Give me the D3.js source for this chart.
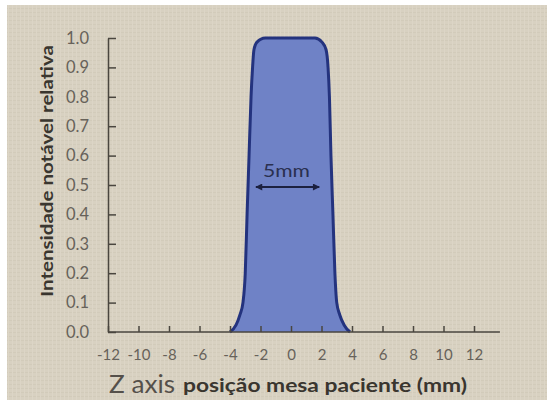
<!DOCTYPE html>
<html>
<head>
<meta charset="utf-8">
<script src="https://cdn.jsdelivr.net/npm/d3@7"></script>
<style>
  html, body { margin: 0; padding: 0; background: #ffffff; }
  svg { display: block; }
</style>
</head>
<body>
<svg id="chart" width="547" height="400"></svg>
<script>
// Slice sensitivity profile along the table (Z) axis
const zPositions = [-4.0, -3.6, -3.35, -3.15, -3.0, -2.88, -2.75, -2.62, -2.52, -2.43, -2.23, -1.7,
                    0, 1.57, 2.03, 2.3, 2.43, 2.52, 2.62, 2.75, 2.88, 3.0, 3.2, 3.48, 3.87];
const intensities = [0, 0.024, 0.058, 0.1, 0.2, 0.4, 0.6, 0.8, 0.9, 0.96, 0.986, 1.0,
                     1.0, 1.0, 0.986, 0.96, 0.9, 0.8, 0.6, 0.4, 0.2, 0.1, 0.058, 0.024, 0];
const xTicks = [-12, -10, -8, -6, -4, -2, 0, 2, 4, 6, 8, 10, 12];
const yTicks = [0, 0.1, 0.2, 0.3, 0.4, 0.5, 0.6, 0.7, 0.8, 0.9, 1.0];
const widthLabel = "5mm";
const widthSpan = [-2.3, 1.85];

const svg = d3.select("#chart");
const W = 547, H = 400;

// paper background with a faint woven texture
const defs = svg.append("defs");
const pat = defs.append("pattern").attr("id", "paper")
  .attr("width", 4).attr("height", 4).attr("patternUnits", "userSpaceOnUse");
pat.append("rect").attr("width", 4).attr("height", 4).attr("fill", "#d8d1c1");
pat.append("rect").attr("width", 4).attr("height", 1).attr("fill", "#d2cbba");
pat.append("rect").attr("width", 1).attr("height", 4).attr("fill", "#dcd5c6");

svg.append("rect").attr("width", W).attr("height", H).attr("fill", "#ffffff");
svg.append("rect").attr("x", 7).attr("y", 5).attr("width", W - 7).attr("height", H - 5)
  .attr("fill", "url(#paper)");

const x = d3.scaleLinear().domain([-12, 12]).range([108, 474]);
const y = d3.scaleLinear().domain([0, 1]).range([332, 38]);

const pts = zPositions.map((z, i) => [z, intensities[i]]);

// filled profile
const area = d3.area()
  .x(d => x(d[0])).y0(y(0)).y1(d => y(d[1]))
  .curve(d3.curveMonotoneX);
svg.append("path").datum(pts)
  .attr("d", area)
  .attr("fill", "#6f82c6");

const line = d3.line()
  .x(d => x(d[0])).y(d => y(d[1]))
  .curve(d3.curveMonotoneX);
svg.append("path").datum(pts)
  .attr("d", line)
  .attr("fill", "none")
  .attr("stroke", "#24337e")
  .attr("stroke-width", 3)
  .attr("stroke-linejoin", "round");

// axes
const axisColor = "#4a463f";
const tickFont = "Lato, 'DejaVu Sans', sans-serif";

const yAxis = svg.append("g")
  .attr("transform", `translate(${x(-12)},0)`)
  .call(d3.axisLeft(y).tickValues(yTicks).tickFormat(d3.format(".1f"))
    .tickSize(-8).tickSizeOuter(0).tickPadding(19));
yAxis.select(".domain").attr("stroke", axisColor).attr("stroke-width", 1.5);
yAxis.selectAll(".tick line").attr("stroke", axisColor).attr("stroke-width", 1.5);
yAxis.selectAll(".tick text")
  .attr("fill", "#67625a").attr("font-size", 16.5).attr("font-family", tickFont);

const xAxis = svg.append("g")
  .attr("transform", `translate(0,${y(0)})`)
  .call(d3.axisBottom(x).tickValues(xTicks).tickFormat(d => d < 0 ? "-" + Math.abs(d) : d)
    .tickSize(-6).tickSizeOuter(0).tickPadding(17));
xAxis.select(".domain").remove();
xAxis.selectAll(".tick line").attr("stroke", axisColor).attr("stroke-width", 1.5);
xAxis.selectAll(".tick text")
  .attr("fill", "#67625a").attr("font-size", 15).attr("font-family", tickFont);
xAxis.append("line")
  .attr("x1", x(-12)).attr("x2", x(13.7))
  .attr("stroke", axisColor).attr("stroke-width", 1.5);

// width annotation
svg.append("text")
  .attr("x", 263)
  .attr("y", 177)
  .attr("textLength", 47)
  .attr("lengthAdjust", "spacingAndGlyphs")
  .attr("font-family", tickFont)
  .attr("font-size", 18)
  .attr("fill", "#2a3050")
  .text(widthLabel);

defs.append("marker").attr("id", "head")
  .attr("viewBox", "0 0 10 10").attr("refX", 9).attr("refY", 5)
  .attr("markerWidth", 9).attr("markerHeight", 7)
  .attr("markerUnits", "userSpaceOnUse")
  .attr("orient", "auto-start-reverse")
  .append("path").attr("d", "M0,0 L10,5 L0,10 Z").attr("fill", "#1c2140");

svg.append("line")
  .attr("x1", x(widthSpan[0])).attr("x2", x(widthSpan[1]))
  .attr("y1", 187).attr("y2", 187)
  .attr("stroke", "#1c2140").attr("stroke-width", 2)
  .attr("marker-start", "url(#head)").attr("marker-end", "url(#head)");

// axis titles
svg.append("text")
  .attr("transform", "translate(53,297) rotate(-90)")
  .attr("textLength", 252)
  .attr("lengthAdjust", "spacingAndGlyphs")
  .attr("font-family", tickFont)
  .attr("font-weight", "bold")
  .attr("font-size", 17)
  .attr("fill", "#3a362f")
  .text("Intensidade notável relativa");

svg.append("text")
  .attr("x", 109).attr("y", 393)
  .attr("textLength", 66)
  .attr("lengthAdjust", "spacingAndGlyphs")
  .attr("font-family", tickFont)
  .attr("font-size", 25)
  .attr("fill", "#55504a")
  .text("Z axis");

svg.append("text")
  .attr("x", 183).attr("y", 392)
  .attr("textLength", 284)
  .attr("lengthAdjust", "spacingAndGlyphs")
  .attr("font-family", tickFont)
  .attr("font-size", 18)
  .attr("font-weight", "bold")
  .attr("fill", "#3a362f")
  .text("posição mesa paciente (mm)");
</script>
</body>
</html>
